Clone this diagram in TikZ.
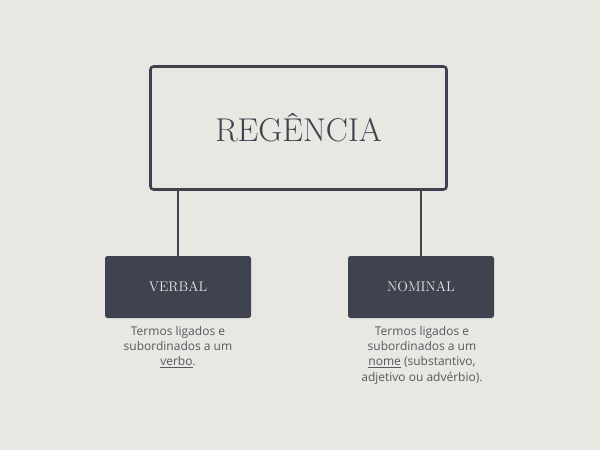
\documentclass[tikz,border=0pt]{standalone}
\usepackage{fontspec}
\newfontfamily\bodyfont{Open Sans}
\definecolor{bg}{HTML}{E8E7E1}
\definecolor{ink}{HTML}{3F4350}
\definecolor{txt}{HTML}{555860}
\begin{document}
\begin{tikzpicture}[x=1pt,y=-1pt,
  bigbox/.style={draw=ink,line width=2.6pt,rounded corners=3pt,fill=bg,minimum width=296pt,minimum height=123pt,inner sep=0pt,text=ink,font=\fontsize{33}{38}\selectfont},
  smallbox/.style={draw=none,fill=ink,rounded corners=2.5pt,minimum width=146pt,minimum height=62pt,inner sep=0pt,text=bg,font=\fontsize{14}{17}\selectfont},
  link/.style={draw=ink,line width=2.8pt},
  desc/.style={align=center,text=txt,inner sep=0pt,anchor=north,font=\bodyfont\fontsize{12}{15.3}\selectfont}]
\fill[bg] (0,0) rectangle (600,450);
\useasboundingbox (0,0) rectangle (600,450);
\node[bigbox] (top) at (298.5,128) {\raisebox{2pt}{REGÊNCIA}};
\node[smallbox] (verbal) at (178,287) {VERBAL};
\node[smallbox] (nominal) at (421,287) {NOMINAL};
\coordinate (tl) at (178,190);
\coordinate (tr) at (421,190);
\draw[link] (tl) -- (verbal.north);
\draw[link] (tr) -- (nominal.north);
\node[desc] (dv) at (178,326) {Termos ligados e\\subordinados a um\\\underline{verbo}.};
\node[desc] (dn) at (422,326) {Termos ligados e\\subordinados a um\\\underline{nome} (substantivo,\\adjetivo ou advérbio).};
\end{tikzpicture}
\end{document}
